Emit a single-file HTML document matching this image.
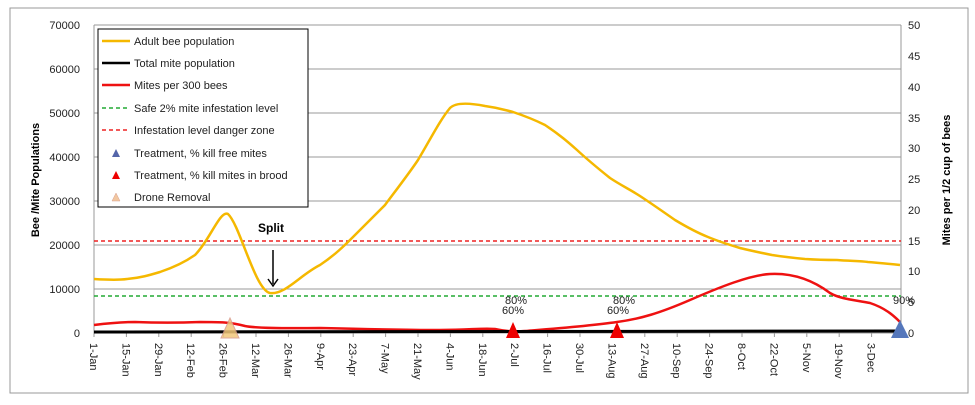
<!DOCTYPE html>
<html><head><meta charset="utf-8"><style>
body{margin:0;background:#fff;}
svg{display:block;font-family:"Liberation Sans",sans-serif;}
</style></head><body>
<svg width="975" height="405" viewBox="0 0 975 405">
<rect x="10" y="8" width="958" height="385" fill="#fff" stroke="#999" stroke-width="1"/>
<g stroke="#999" stroke-width="1">
<line x1="94" y1="25" x2="901" y2="25"/><line x1="94" y1="69" x2="901" y2="69"/>
<line x1="94" y1="113" x2="901" y2="113"/><line x1="94" y1="157" x2="901" y2="157"/>
<line x1="94" y1="201" x2="901" y2="201"/><line x1="94" y1="245" x2="901" y2="245"/>
<line x1="94" y1="289" x2="901" y2="289"/>
<line x1="94" y1="25" x2="94" y2="333"/><line x1="901" y1="25" x2="901" y2="333"/>
<line x1="94" y1="333" x2="901" y2="333"/>
</g>
<g font-size="11" fill="#222" text-anchor="end">
<text x="80" y="29">70000</text><text x="80" y="73">60000</text><text x="80" y="117">50000</text>
<text x="80" y="161">40000</text><text x="80" y="205">30000</text><text x="80" y="249">20000</text>
<text x="80" y="293">10000</text><text x="80" y="337">0</text>
</g>
<g font-size="11" fill="#222">
<text x="908" y="29">50</text><text x="908" y="60">45</text><text x="908" y="91">40</text>
<text x="908" y="122">35</text><text x="908" y="152">30</text><text x="908" y="183">25</text>
<text x="908" y="214">20</text><text x="908" y="245">15</text><text x="908" y="275">10</text>
<text x="908" y="306">5</text><text x="908" y="337">0</text>
</g>
<text transform="translate(39,180) rotate(-90)" font-size="11" font-weight="bold" text-anchor="middle">Bee /Mite Populations</text>
<text transform="translate(950,180) rotate(-90)" font-size="11" font-weight="bold" text-anchor="middle">Mites per 1/2 cup of bees</text>
<g font-size="11" fill="#222" id="xl"></g>
<line x1="94" y1="296" x2="901" y2="296" stroke="#22aa33" stroke-width="1.5" stroke-dasharray="4,3"/>
<line x1="94" y1="241" x2="901" y2="241" stroke="#ee2222" stroke-width="1.5" stroke-dasharray="4,3"/>
<path d="M94,279 C110,280 120,280 127,279 C140,278 150,275 160,272 C175,267 185,262 195,255 C210,240 220,210 228,214 C240,225 255,290 270,293 C285,295 300,275 320,265 C335,255 345,245 353,237 C365,225 375,215 385,205 C400,185 410,172 418,160 C430,140 440,120 450,108 C456,102 470,103 485,106 C500,108 505,110 513,112 C525,116 535,120 545,125 C560,135 568,142 577,150 C590,162 600,170 610,178 C622,186 633,191 643,198 C655,206 665,213 675,220 C690,229 698,233 708,237 C720,242 730,245 740,248 C752,251 762,253 772,255 C785,257 795,258 805,259 C820,260 830,260 837,260 C850,261 860,261 868,262 C880,263 890,264 900,265" fill="none" stroke="#f5b800" stroke-width="2.5"/>
<path d="M94,325 C110,323 120,322 135,322 C160,323 175,323 200,322 C220,322 230,322 245,326 C260,329 300,328 320,328 C360,329 400,330 440,330 C470,330 480,328 495,329 C505,331 513,332 525,331 C550,329 590,326 617,322 C640,319 660,313 690,300 C720,287 750,275 770,274 C790,273 810,278 830,293 C840,299 855,300 870,303 C885,308 893,315 900,322" fill="none" stroke="#ee1111" stroke-width="2.5"/>
<line x1="94" y1="332" x2="900" y2="331" stroke="#000" stroke-width="3"/>
<polygon points="221,338 239,338 230,318" fill="#f2c77a" stroke="#d89a8a" stroke-width="1" opacity="0.85"/>
<polygon points="506,338 520,338 513,322" fill="#ee0000"/>
<polygon points="610,338 624,338 617,322" fill="#ee0000"/>
<polygon points="891,338 909,338 900,320" fill="#5577bb"/>
<g font-size="11" fill="#222">
<text x="505" y="304">80%</text><text x="502" y="314">60%</text>
<text x="613" y="304">80%</text><text x="607" y="314">60%</text>
<text x="893" y="304">90%</text>
</g>
<text x="258" y="232" font-size="12" font-weight="bold">Split</text>
<line x1="273" y1="250" x2="273" y2="284" stroke="#000" stroke-width="1.5"/>
<polyline points="268,279 273,286 278,279" fill="none" stroke="#000" stroke-width="1.5"/>
<rect x="98" y="29" width="210" height="178" fill="#fff" stroke="#000" stroke-width="1"/>
<g font-size="11" fill="#222">
<line x1="102" y1="41" x2="130" y2="41" stroke="#f5b800" stroke-width="2.5"/><text x="134" y="45">Adult bee population</text>
<line x1="102" y1="63" x2="130" y2="63" stroke="#000" stroke-width="2.5"/><text x="134" y="67">Total mite population</text>
<line x1="102" y1="85" x2="130" y2="85" stroke="#ee1111" stroke-width="2.5"/><text x="134" y="89">Mites per 300 bees</text>
<line x1="102" y1="108" x2="130" y2="108" stroke="#22aa33" stroke-width="1.5" stroke-dasharray="4,3"/><text x="134" y="112">Safe 2% mite infestation level</text>
<line x1="102" y1="130" x2="130" y2="130" stroke="#ee2222" stroke-width="1.5" stroke-dasharray="4,3"/><text x="134" y="134">Infestation level  danger zone</text>
<polygon points="112,157 120,157 116,149" fill="#5566aa"/><text x="134" y="157">Treatment, % kill free mites</text>
<polygon points="112,179 120,179 116,171" fill="#ee0000"/><text x="134" y="179">Treatment, % kill mites in brood</text>
<polygon points="112,201 120,201 116,193" fill="#f2c7a0" stroke="#d8a090" stroke-width="0.5"/><text x="134" y="201">Drone Removal</text>
</g>
</svg>
<script>
var L=["1-Jan","15-Jan","29-Jan","12-Feb","26-Feb","12-Mar","26-Mar","9-Apr","23-Apr","7-May","21-May","4-Jun","18-Jun","2-Jul","16-Jul","30-Jul","13-Aug","27-Aug","10-Sep","24-Sep","8-Oct","22-Oct","5-Nov","19-Nov","3-Dec"];
var g=document.getElementById("xl"),ns="http://www.w3.org/2000/svg";
L.forEach(function(s,i){var x=94+i*32.4;
var l=document.createElementNS(ns,"line");l.setAttribute("x1",x);l.setAttribute("x2",x);l.setAttribute("y1",333);l.setAttribute("y2",337);l.setAttribute("stroke","#999");g.appendChild(l);
var t=document.createElementNS(ns,"text");t.setAttribute("transform","translate("+(x-4)+",343) rotate(90)");t.textContent=s;g.appendChild(t);});
</script>
</body></html>
